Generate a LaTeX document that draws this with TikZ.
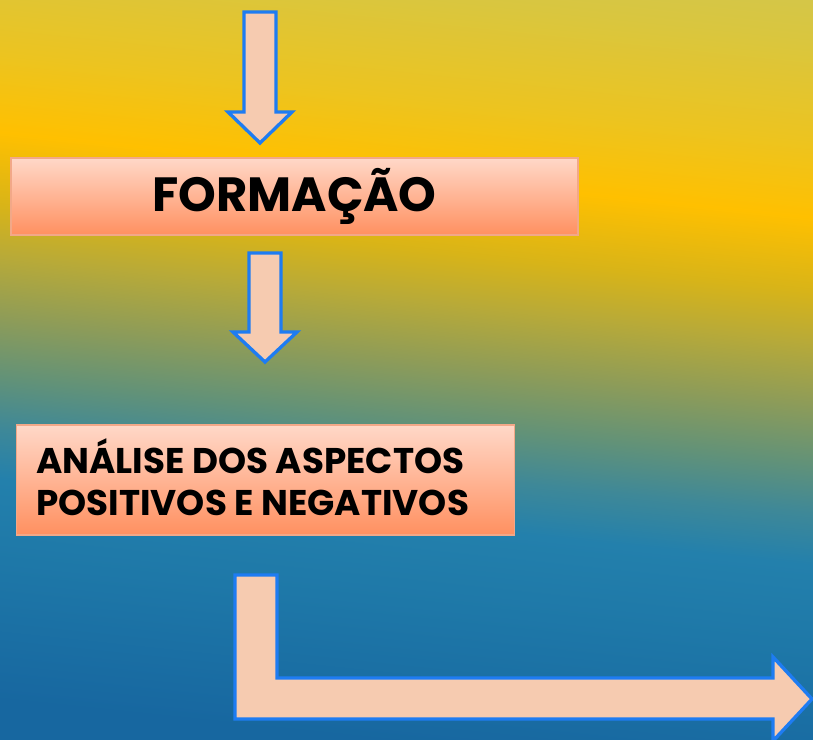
\documentclass[tikz,border=0pt]{standalone}
\usepackage{fontspec}
\setmainfont{Poppins}
\usepackage{tikz}

\definecolor{bgtopr}{HTML}{D0C650}
\definecolor{bgtop}{HTML}{D9C63F}
\definecolor{bgyel}{HTML}{ECC420}
\definecolor{bggold}{HTML}{FFC000}
\definecolor{bgmust}{HTML}{D8B418}
\definecolor{bgolive}{HTML}{B8AA38}
\definecolor{bgsage}{HTML}{8E9C58}
\definecolor{bgteal}{HTML}{629278}
\definecolor{bgsea}{HTML}{3E8898}
\definecolor{bgblue}{HTML}{2380AC}
\definecolor{bgblueb}{HTML}{1E78A8}
\definecolor{bgbottom}{HTML}{1767A0}
\definecolor{boxtop}{HTML}{FFD8C8}
\definecolor{boxbottom}{HTML}{FF9060}
\definecolor{boxedge}{HTML}{F2A888}
\definecolor{arrowfill}{HTML}{F6CBB0}
\definecolor{arrowedge}{HTML}{1E7CF2}

\pgfdeclareverticalshading{sunsetbg}{100bp}{color(0bp)=(bgbottom); color(25bp)=(bgbottom);
  color(34.4bp)=(bgblueb); color(39.8bp)=(bgblue); color(43.2bp)=(bgsea); color(46.6bp)=(bgteal);
  color(50.6bp)=(bgsage); color(54.7bp)=(bgolive); color(58.1bp)=(bgmust); color(63bp)=(bggold);
  color(68.2bp)=(bgyel); color(75bp)=(bgtop); color(80bp)=(bgtopr); color(100bp)=(bgtopr)}

\tikzset{
  procbox/.style={rectangle, draw=boxedge, line width=0.9pt, top color=boxtop, bottom color=boxbottom, inner sep=0pt},
  blockarrow/.style={fill=arrowfill, draw=arrowedge, line width=2.5pt, line join=miter},
  boxtext/.style={inner sep=0pt, align=left, font=\bfseries\fontsize{26.8}{31.5}\selectfont}
}

\begin{document}
\begin{tikzpicture}[x=0.75pt,y=0.75pt,yscale=-1,xscale=1]
\useasboundingbox (0,0) rectangle (813,739);

%Background
\shade[shading=sunsetbg, shading angle=-6] (0,0) rectangle (813,739);

%Shape: Down Arrow
\draw[blockarrow] (244,12) -- (276,12) -- (276,112) -- (292,112) -- (260,143) -- (228,112) -- (244,112) -- cycle;

%Shape: Rectangle
\node[procbox, minimum width=425.25pt, minimum height=57.75pt, font=\bfseries\fontsize{36}{40}\selectfont] (formacao) at (294.5,196.5) {FORMAÇÃO};

%Shape: Down Arrow
\draw[blockarrow] (249,253) -- (281,253) -- (281,332) -- (297,332) -- (265,362) -- (233,332) -- (249,332) -- cycle;

%Shape: Rectangle
\node[procbox, minimum width=373.5pt, minimum height=82.5pt] (analise) at (265.75,480) {};
% Text Node
\node[boxtext, anchor=base west] (analisetxt) at (36,515) {ANÁLISE DOS ASPECTOS\\POSITIVOS E NEGATIVOS};

%Shape: Bent Arrow
\draw[blockarrow] (235,575) -- (277,575) -- (277,678) -- (773,678) -- (773,657) -- (812,699) -- (773,741) -- (773,719) -- (235,719) -- cycle;

\end{tikzpicture}
\end{document}
